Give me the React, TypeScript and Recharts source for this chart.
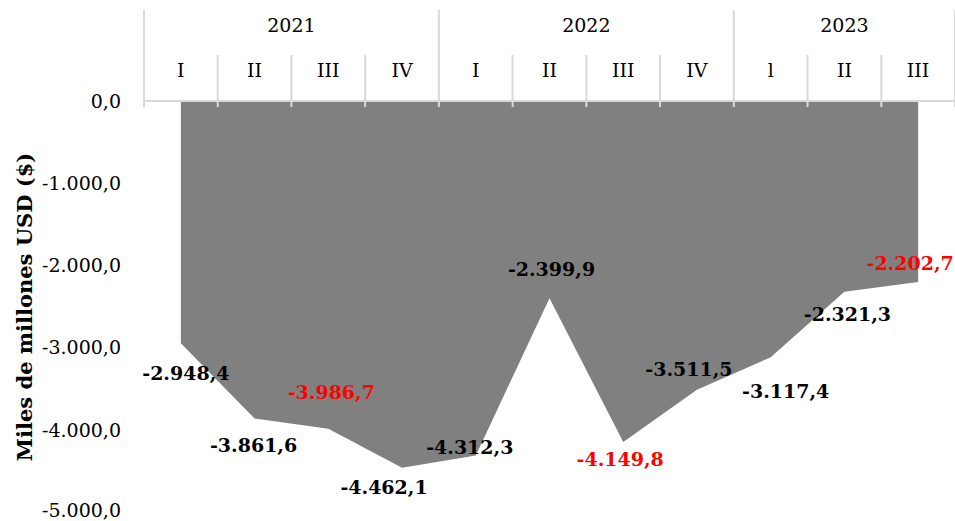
import { Area, AreaChart, LabelList, XAxis, YAxis } from "recharts";

const years = ["2021", "2021", "2021", "2021", "2022", "2022", "2022", "2022", "2023", "2023", "2023"];
const quarters = ["I", "II", "III", "IV", "I", "II", "III", "IV", "l", "II", "III"];
const values = [-2948.4, -3861.6, -3986.7, -4462.1, -4312.3, -2399.9, -4149.8, -3511.5, -3117.4, -2321.3, -2202.7];
const yTicks = [0, -1000, -2000, -3000, -4000, -5000];
const highlighted = [2, 6, 10];

// where each value label sits relative to its point
const labelOffsets = [
  [5, 30], [-1, 27], [3, -37], [-18, 19], [-6, -8], [2, -29],
  [-3, 17], [-8, -21], [15, 34], [3, 22], [-8, -19],
];

const data = values.map((v, i) => ({ q: quarters[i], year: years[i], value: v }));

const W = 955;
const H = 521;
const LEFT = 144;
const TOP = 101;
const BAND = (W - LEFT) / values.length;
const GRID = "#d9d9d9";
const FONT = "'DejaVu Serif', serif";

const fmt = (v: number) => {
  const [int, dec] = Math.abs(v).toFixed(1).split(".");
  const withDots = int.replace(/\B(?=(\d{3})+(?!\d))/g, ".");
  return (v < 0 ? "-" : "") + withDots + "," + dec;
};

function QuarterTick(props: any) {
  const { x, payload } = props;
  const i = payload.index;
  const left = x - BAND / 2;
  const yearStart = i === 0 || years[i] !== years[i - 1];
  let yearLabel = null;
  if (yearStart) {
    const count = years.filter((y) => y === years[i]).length;
    yearLabel = (
      <text x={left + (count * BAND) / 2} y={25} textAnchor="middle" dominantBaseline="central"
        fontFamily={FONT} fontSize={19} fill="#000">
        {years[i]}
      </text>
    );
  }
  return (
    <g>
      <line x1={left} x2={left} y1={yearStart ? 10 : 55} y2={TOP + 6} stroke={GRID} strokeWidth={2} />
      {i === values.length - 1 && (
        <line x1={left + BAND} x2={left + BAND} y1={10} y2={TOP + 6} stroke={GRID} strokeWidth={2} />
      )}
      <text x={x} y={70} textAnchor="middle" dominantBaseline="central" fontFamily={FONT} fontSize={19} fill="#000">
        {payload.value}
      </text>
      {yearLabel}
    </g>
  );
}

function ValueLabel(props: any) {
  const { x, y, value, index } = props;
  const [dx, dy] = labelOffsets[index];
  return (
    <text x={x + dx} y={y + dy} textAnchor="middle" dominantBaseline="central" fontFamily={FONT}
      fontWeight="bold" fontSize={19} fill={highlighted.includes(index) ? "#ff0000" : "#000"}>
      {fmt(value)}
    </text>
  );
}

export default function App() {
  return (
    <div style={{ position: "absolute", left: 0, top: 0, width: W, height: H, background: "#fff" }}>
      <AreaChart width={W} height={H} data={data} margin={{ top: 0, right: 0, left: 0, bottom: 9 }}>
        <XAxis
          dataKey="q"
          orientation="top"
          height={TOP}
          interval={0}
          padding={{ left: BAND / 2, right: BAND / 2 }}
          tickLine={false}
          axisLine={{ stroke: GRID, strokeWidth: 2 }}
          tick={<QuarterTick />}
        />
        <YAxis
          width={LEFT}
          domain={[-5000, 0]}
          ticks={yTicks}
          axisLine={false}
          tickLine={false}
          tickSize={6}
          tickMargin={17}
          tickFormatter={fmt}
          tick={{ fontFamily: FONT, fontSize: 19, fill: "#000" }}
          label={() => (
            <text x={24} y={307} transform="rotate(-90 24 307)" textAnchor="middle" dominantBaseline="central"
              fontFamily={FONT} fontWeight="bold" fontSize={21} fill="#000">
              Miles de millones USD ($)
            </text>
          )}
        />
        <Area
          type="linear"
          dataKey="value"
          baseValue={0}
          stroke="none"
          fill="#808080"
          fillOpacity={1}
          dot={false}
          activeDot={false}
          isAnimationActive={false}
        >
          <LabelList dataKey="value" content={<ValueLabel />} />
        </Area>
      </AreaChart>
    </div>
  );
}
